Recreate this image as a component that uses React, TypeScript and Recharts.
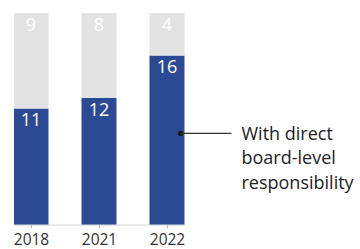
import React from "react";
import { BarChart, Bar, XAxis, YAxis, LabelList } from "recharts";

const years = ["2018", "2021", "2022"];
const withBoard = [11, 12, 16];
const withoutBoard = [9, 8, 4];
const annotationLines = ["With direct", "board-level", "responsibility"];

const data = years.map((y, i) => ({ idx: i, year: y, board: withBoard[i], other: withoutBoard[i] }));

const FONT = "'Open Sans', sans-serif";
const BLUE = "#2c4a93";
const GRAY = "#e3e3e3";

const Annotation = (props: any) => {
  const { x, y, width, height, index } = props;
  if (index !== years.length - 1) return null;
  const dx = x + width - 4;
  const dy = y + height * 0.46;
  const tx = dx + 61;
  return (
    <g>
      <circle cx={dx} cy={dy} r={2.6} fill="#1a1a1a" />
      <line x1={dx} y1={dy} x2={dx + 51} y2={dy} stroke="#333" strokeWidth={1.2} />
      <text x={tx} y={dy + 6.5} fontFamily={FONT} fontSize={18} fill="#222">
        {annotationLines.map((l, i) => (
          <tspan key={i} x={tx} dy={i === 0 ? 0 : 24.5}>
            {l}
          </tspan>
        ))}
      </text>
    </g>
  );
};

export default function App() {
  return (
    <div style={{ position: "absolute", left: 0, top: 0 }}>
      <BarChart
        width={360}
        height={249}
        data={data}
        margin={{ top: 13, right: 175, bottom: 0, left: 14 }}
      >
        <XAxis
          dataKey="idx"
          type="number"
          domain={[-0.2574, 2.2574]}
          ticks={[0, 1, 2]}
          allowDataOverflow
          tickFormatter={(v: number) => years[v]}
          height={24}
          axisLine={{ stroke: "#d6d6d6" }}
          tickLine={{ stroke: "#bbb" }}
          tickSize={3}
          tickMargin={6}
          tick={{ fill: "#333", fontSize: 15.5, fontFamily: FONT }}
        />
        <YAxis hide domain={[0, 20]} />
        <Bar dataKey="board" stackId="a" fill={BLUE} barSize={35} isAnimationActive={false}>
          <LabelList dataKey="board" position="insideTop" offset={5} fill="#fff" fontSize={18} fontFamily={FONT} />
          <LabelList dataKey="board" content={<Annotation />} />
        </Bar>
        <Bar dataKey="other" stackId="a" fill={GRAY} barSize={35} isAnimationActive={false}>
          <LabelList dataKey="other" position="insideTop" offset={5} fill="#fff" fontSize={18} fontFamily={FONT} />
        </Bar>
      </BarChart>
    </div>
  );
}
